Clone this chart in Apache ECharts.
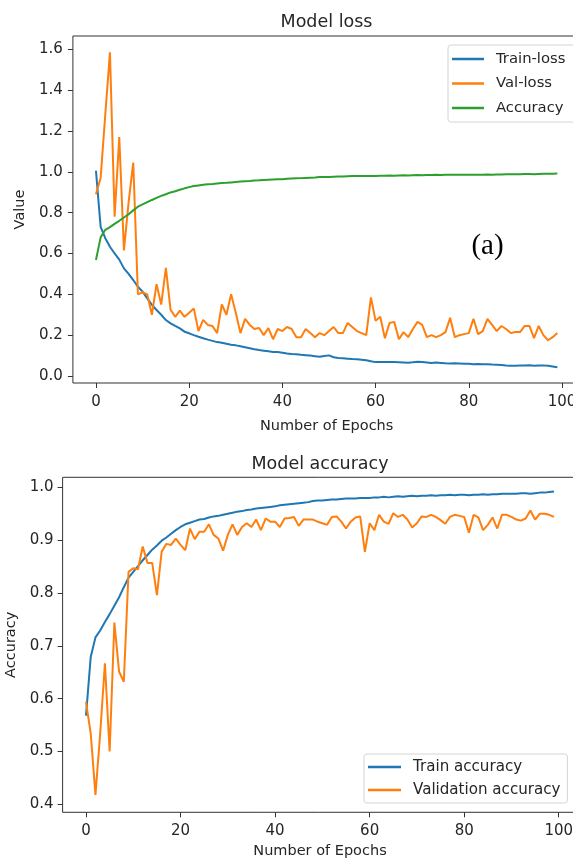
<!DOCTYPE html>
<html>
<head>
<meta charset="utf-8">
<script src="https://cdn.jsdelivr.net/npm/echarts@6/dist/echarts.min.js"></script>
<style>
html,body{margin:0;padding:0;background:#fff;}
#chart{width:573px;height:861px;}
</style>
</head>
<body>
<div id="chart"></div>
<script>
// ---- Data ----
const epochs = Array.from({length: 100}, (_, i) => i);

const trainLoss = [
1.005,0.730,0.675,0.633,0.600,0.570,0.527,0.500,0.470,0.437,
0.413,0.380,0.348,0.323,0.300,0.274,0.258,0.245,0.233,0.217,
0.209,0.200,0.192,0.185,0.178,0.172,0.166,0.163,0.158,0.153,
0.150,0.146,0.141,0.136,0.131,0.127,0.124,0.121,0.118,0.117,
0.114,0.110,0.108,0.107,0.104,0.102,0.100,0.097,0.094,0.098,
0.101,0.092,0.088,0.087,0.085,0.083,0.082,0.080,0.077,0.072,
0.068,0.068,0.069,0.068,0.068,0.067,0.066,0.065,0.067,0.070,
0.068,0.066,0.064,0.066,0.064,0.062,0.061,0.062,0.061,0.060,
0.060,0.058,0.059,0.057,0.058,0.056,0.055,0.054,0.051,0.050,
0.050,0.051,0.052,0.053,0.050,0.051,0.052,0.050,0.047,0.043
];

const valLoss = [
0.890,0.970,1.280,1.585,0.780,1.170,0.615,0.850,1.045,0.400,
0.410,0.400,0.300,0.450,0.350,0.530,0.325,0.290,0.320,0.290,
0.310,0.330,0.220,0.275,0.250,0.245,0.210,0.350,0.300,0.400,
0.310,0.210,0.280,0.250,0.230,0.235,0.200,0.235,0.180,0.230,
0.220,0.240,0.230,0.190,0.190,0.230,0.210,0.190,0.210,0.200,
0.220,0.240,0.210,0.210,0.260,0.240,0.220,0.210,0.200,0.385,
0.270,0.290,0.185,0.260,0.265,0.180,0.215,0.190,0.230,0.265,
0.250,0.190,0.200,0.190,0.200,0.215,0.285,0.190,0.200,0.205,
0.210,0.280,0.205,0.220,0.280,0.250,0.220,0.245,0.230,0.210,
0.215,0.215,0.245,0.245,0.185,0.245,0.200,0.175,0.190,0.210
];

const trainAcc = [
0.568,0.679,0.716,0.729,0.745,0.760,0.776,0.792,0.811,0.829,
0.840,0.851,0.862,0.872,0.882,0.890,0.899,0.905,0.912,0.919,
0.925,0.930,0.933,0.936,0.939,0.940,0.943,0.945,0.946,0.948,
0.950,0.952,0.954,0.955,0.957,0.958,0.960,0.961,0.962,0.963,
0.964,0.966,0.967,0.968,0.969,0.970,0.971,0.972,0.974,0.975,
0.975,0.976,0.977,0.977,0.978,0.979,0.979,0.979,0.980,0.980,
0.980,0.981,0.981,0.982,0.981,0.982,0.983,0.982,0.983,0.984,
0.983,0.984,0.984,0.985,0.984,0.985,0.985,0.986,0.985,0.986,
0.986,0.985,0.986,0.986,0.987,0.986,0.987,0.987,0.988,0.988,
0.988,0.988,0.989,0.989,0.988,0.989,0.990,0.990,0.991,0.992
];

const valAcc = [
0.594,0.534,0.418,0.534,0.667,0.500,0.744,0.651,0.632,0.840,
0.847,0.845,0.888,0.857,0.857,0.796,0.878,0.893,0.891,0.903,
0.891,0.881,0.922,0.902,0.916,0.916,0.930,0.910,0.903,0.880,
0.910,0.930,0.910,0.925,0.932,0.925,0.939,0.919,0.941,0.935,
0.935,0.925,0.941,0.942,0.944,0.927,0.939,0.939,0.939,0.935,
0.932,0.929,0.944,0.945,0.935,0.922,0.935,0.943,0.945,0.878,
0.932,0.919,0.948,0.935,0.931,0.951,0.944,0.948,0.939,0.924,
0.932,0.945,0.944,0.948,0.944,0.938,0.931,0.944,0.948,0.946,
0.944,0.914,0.948,0.943,0.919,0.929,0.943,0.922,0.948,0.948,
0.944,0.939,0.937,0.941,0.956,0.939,0.950,0.950,0.948,0.944
];

const xTicks = [0, 20, 40, 60, 80, 100];
const yTicksLoss = [0.0, 0.2, 0.4, 0.6, 0.8, 1.0, 1.2, 1.4, 1.6];
const yTicksAcc = [0.4, 0.5, 0.6, 0.7, 0.8, 0.9, 1.0];

const lossNames = ['Train-loss', 'Val-loss', 'Accuracy'];
const accNames = ['Train accuracy', 'Validation accuracy'];

// ---- Chart ----
const FONT = 'DejaVu Sans';
const TXT = '#262626';
const AX = '#333';
const C_BLUE = '#1f77b4', C_ORANGE = '#ff7f0e', C_GREEN = '#2ca02c';

const pairs = arr => arr.map((v, i) => [epochs[i], v]);

function xAxisCfg(gridIndex, labelMargin, nameGap) {
  return {
    type: 'value', gridIndex: gridIndex,
    min: -4.95, max: 103.95,
    name: 'Number of Epochs', nameLocation: 'middle', nameGap: nameGap,
    nameTextStyle: {fontFamily: FONT, fontSize: 14.5, color: TXT},
    axisLine: {show: false, onZero: false},
    splitLine: {show: false},
    axisTick: {show: true, length: 5, lineStyle: {color: AX, width: 1}, customValues: xTicks},
    axisLabel: {margin: labelMargin, fontFamily: FONT, fontSize: 15, color: TXT, customValues: xTicks,
      formatter: v => String(Math.round(v))}
  };
}
function yAxisCfg(gridIndex, min, max, ticks, name, nameGap, labelMargin) {
  return {
    type: 'value', gridIndex: gridIndex, min: min, max: max,
    name: name, nameLocation: 'middle', nameGap: nameGap,
    nameTextStyle: {fontFamily: FONT, fontSize: 14.5, color: TXT},
    axisLine: {show: false, onZero: false},
    splitLine: {show: false},
    axisTick: {show: true, length: 5, lineStyle: {color: AX, width: 1}, customValues: ticks},
    axisLabel: {margin: labelMargin, fontFamily: FONT, fontSize: 15, color: TXT, customValues: ticks,
      formatter: v => v.toFixed(1)}
  };
}
function lineSeries(name, data, color, xi, yi) {
  return {
    type: 'line', name: name, data: pairs(data), xAxisIndex: xi, yAxisIndex: yi,
    symbol: 'none', showSymbol: false, smooth: false,
    lineStyle: {color: color, width: 2}, itemStyle: {color: color},
    emphasis: {disabled: true}, animation: false, clip: true
  };
}

const chart = echarts.init(document.getElementById('chart'), null, {renderer: 'canvas'});
chart.setOption({
  animation: false,
  backgroundColor: '#ffffff',
  title: [
    {text: 'Model loss', left: 326.5, top: 13, textAlign: 'center', padding: 0,
     textStyle: {fontFamily: FONT, fontSize: 17.5, fontWeight: 'normal', color: TXT}},
    {text: 'Model accuracy', left: 320, top: 455, textAlign: 'center', padding: 0,
     textStyle: {fontFamily: FONT, fontSize: 17.5, fontWeight: 'normal', color: TXT}}
  ],
  grid: [
    {left: 72.9, top: 36, width: 507.5, height: 347, outerBoundsMode: 'none', containLabel: false,
     show: true, borderColor: AX, borderWidth: 1, backgroundColor: 'transparent'},
    {left: 62.6, top: 477.3, width: 514.8, height: 335, outerBoundsMode: 'none', containLabel: false,
     show: true, borderColor: AX, borderWidth: 1, backgroundColor: 'transparent'}
  ],
  xAxis: [xAxisCfg(0, 12, 36), xAxisCfg(1, 11, 31)],
  yAxis: [
    yAxisCfg(0, -0.0343, 1.665, yTicksLoss, 'Value', 41.5, 10),
    yAxisCfg(1, 0.3849, 1.019, yTicksAcc, 'Accuracy', 44, 9)
  ],
  legend: [
    {data: lossNames, orient: 'vertical', left: 448, top: 45, icon: 'rect', itemWidth: 32, itemHeight: 2.5,
     itemGap: 8.5, padding: [6, 12, 6, 4], backgroundColor: '#fff', borderColor: '#d5d5d5', borderWidth: 1, borderRadius: 3,
     selectedMode: false,
     textStyle: {fontFamily: FONT, fontSize: 14.8, color: TXT, lineHeight: 16, padding: [0, 0, 0, 7]}},
    {data: accNames, orient: 'vertical', left: 364, top: 754, icon: 'rect', itemWidth: 33, itemHeight: 2.5,
     itemGap: 7, padding: [5, 7, 5, 4], backgroundColor: '#fff', borderColor: '#d5d5d5', borderWidth: 1, borderRadius: 3,
     selectedMode: false,
     textStyle: {fontFamily: FONT, fontSize: 15.1, color: TXT, lineHeight: 16, padding: [0, 0, 0, 7]}}
  ],
  graphic: [
    {type: 'text', x: 487.5, y: 246, z: 100,
     style: {text: '(a)', fontFamily: 'Liberation Serif', fontSize: 29, fill: '#000', align: 'center', verticalAlign: 'middle'}}
  ],
  series: [
    lineSeries(lossNames[0], trainLoss, C_BLUE, 0, 0),
    lineSeries(lossNames[1], valLoss, C_ORANGE, 0, 0),
    lineSeries(lossNames[2], trainAcc, C_GREEN, 0, 0),
    lineSeries(accNames[0], trainAcc, C_BLUE, 1, 1),
    lineSeries(accNames[1], valAcc, C_ORANGE, 1, 1)
  ]
});
</script>
</body>
</html>
